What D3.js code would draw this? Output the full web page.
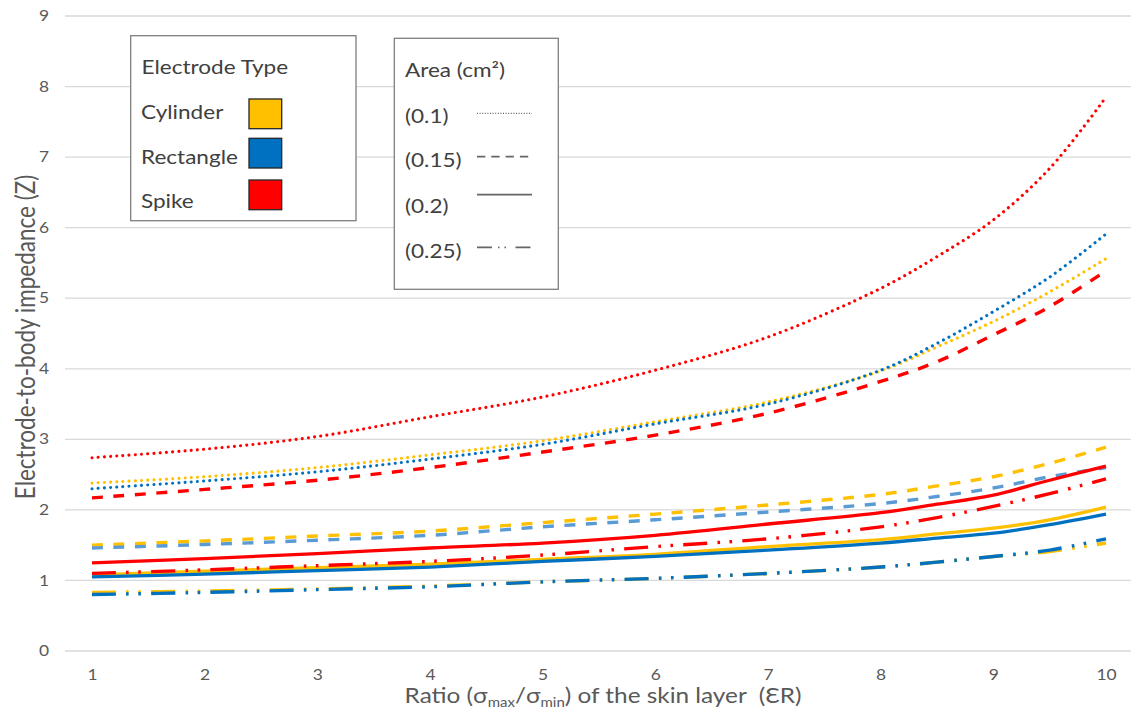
<!DOCTYPE html>
<html>
<head>
<meta charset="utf-8">
<script src="https://cdn.jsdelivr.net/npm/d3@7"></script>
<style>
  html, body { margin: 0; padding: 0; background: #fff; }
  svg { display: block; font-family: Lato, "Open Sans", sans-serif; }
</style>
</head>
<body>
<svg id="chart" width="1131" height="709"></svg>
<script>
// ---------------- data ----------------
const xValues = [1, 2, 3, 4, 5, 6, 7, 8, 8.5, 9, 9.5, 10];
const xTicks = [1, 2, 3, 4, 5, 6, 7, 8, 9, 10];
const yTicks = [0, 1, 2, 3, 4, 5, 6, 7, 8, 9];

const electrodeTypes = ["Cylinder", "Rectangle", "Spike"];
const areaLabels = ["(0.1)", "(0.15)", "(0.2)", "(0.25)"];

// Cylinder
const cylinder01  = [2.38, 2.47, 2.60, 2.78, 2.98, 3.25, 3.53, 3.97, 4.31, 4.67, 5.09, 5.56];
const cylinder015 = [1.50, 1.56, 1.63, 1.70, 1.82, 1.94, 2.07, 2.22, 2.34, 2.47, 2.66, 2.89];
const cylinder02  = [1.08, 1.13, 1.18, 1.23, 1.30, 1.37, 1.48, 1.58, 1.66, 1.74, 1.86, 2.04];
const cylinder025 = [0.83, 0.85, 0.88, 0.92, 0.98, 1.03, 1.10, 1.19, 1.26, 1.34, 1.41, 1.53];
// Rectangle
const rectangle01  = [2.30, 2.41, 2.54, 2.72, 2.93, 3.22, 3.50, 3.98, 4.36, 4.81, 5.30, 5.91];
const rectangle015 = [1.46, 1.51, 1.57, 1.64, 1.76, 1.86, 1.97, 2.09, 2.19, 2.31, 2.47, 2.60];
const rectangle02  = [1.05, 1.09, 1.14, 1.19, 1.27, 1.34, 1.43, 1.53, 1.60, 1.67, 1.79, 1.94];
const rectangle025 = [0.80, 0.83, 0.87, 0.91, 0.98, 1.03, 1.10, 1.19, 1.26, 1.34, 1.43, 1.59];
// Spike
const spike01  = [2.74, 2.86, 3.04, 3.32, 3.60, 3.98, 4.45, 5.14, 5.59, 6.11, 6.84, 7.85];
const spike015 = [2.17, 2.29, 2.42, 2.60, 2.82, 3.06, 3.37, 3.82, 4.10, 4.48, 4.88, 5.39];
const spike02  = [1.25, 1.31, 1.38, 1.46, 1.53, 1.64, 1.80, 1.96, 2.08, 2.21, 2.42, 2.62];
const spike025 = [1.10, 1.15, 1.21, 1.27, 1.36, 1.48, 1.59, 1.76, 1.89, 2.05, 2.23, 2.44];

// ---------------- styles ----------------
const typeColor = { Cylinder: "#FFC000", Rectangle: "#0070C0", Spike: "#FF0000" };
const styleByArea = {
  "0.1":  { dash: "0.01,6.2", cap: "round", width: 3.1 },
  "0.15": { dash: "11,10.5", cap: "butt", width: 3.4 },
  "0.2":  { dash: null, cap: "butt", width: 3.3 },
  "0.25": { dash: "24,10.3,2.6,9.5,2.6,10.2", cap: "butt", width: 3.4 }
};

const series = [
  { type: "Cylinder", area: "0.1", values: cylinder01 },
  { type: "Cylinder", area: "0.15", values: cylinder015 },
  { type: "Cylinder", area: "0.2", values: cylinder02 },
  { type: "Cylinder", area: "0.25", values: cylinder025 },
  { type: "Rectangle", area: "0.1", values: rectangle01 },
  { type: "Rectangle", area: "0.15", values: rectangle015, color: "#5B9BD5" },
  { type: "Rectangle", area: "0.2", values: rectangle02 },
  { type: "Rectangle", area: "0.25", values: rectangle025 },
  { type: "Spike", area: "0.1", values: spike01 },
  { type: "Spike", area: "0.15", values: spike015 },
  { type: "Spike", area: "0.2", values: spike02 },
  { type: "Spike", area: "0.25", values: spike025 }
];

// ---------------- layout ----------------
const svg = d3.select("#chart");
const plotLeft = 65, plotRight = 1131;
const SX = 1.2; // horizontal glyph stretch of the original picture
const textColor = "#595959";

const x = d3.scaleLinear().domain([1, 10]).range([92, 1106]);
const y = d3.scaleLinear().domain([0, 9]).range([651, 16]);

// gridlines
svg.append("g").selectAll("line").data(yTicks).join("line")
  .attr("x1", plotLeft).attr("x2", plotRight)
  .attr("y1", d => y(d)).attr("y2", d => y(d))
  .attr("stroke", "#D9D9D9").attr("stroke-width", 1.3);

// axes
const yAxis = svg.append("g").attr("transform", "translate(49,0)")
  .call(d3.axisLeft(y).tickValues(yTicks).tickSize(0).tickPadding(0).tickFormat(d3.format("d")));
yAxis.select(".domain").remove();
yAxis.selectAll("text").attr("fill", textColor).attr("font-size", 14.5)
  .attr("font-family", "Lato, sans-serif").attr("transform", `scale(${SX},1)`);

const xAxis = svg.append("g").attr("transform", "translate(0,670)")
  .call(d3.axisBottom(x).tickValues(xTicks).tickSize(0).tickPadding(0).tickFormat(d3.format("d")));
xAxis.select(".domain").remove();
xAxis.selectAll("text").attr("fill", textColor).attr("font-size", 14.5)
  .attr("font-family", "Lato, sans-serif").attr("transform", `scale(${SX},1)`);

// lines
const line = d3.line().x((d, i) => x(xValues[i])).y(d => y(d)).curve(d3.curveCatmullRom.alpha(0.5));
svg.append("g").selectAll("path").data(series).join("path")
  .attr("d", d => line(d.values))
  .attr("fill", "none")
  .attr("stroke", d => d.color || typeColor[d.type])
  .attr("stroke-width", d => styleByArea[d.area].width)
  .attr("stroke-linecap", d => styleByArea[d.area].cap)
  .attr("stroke-dasharray", d => styleByArea[d.area].dash);

// axis titles
const xt = svg.append("text")
  .attr("transform", `translate(603,703) scale(${SX},1)`)
  .attr("text-anchor", "middle").attr("fill", textColor).attr("font-size", 20.3)
  .style("white-space", "pre");
xt.append("tspan").text("Ratio (σ");
xt.append("tspan").attr("font-size", 12.5).attr("dy", 4).text("max");
xt.append("tspan").attr("dy", -4).text("/σ");
xt.append("tspan").attr("font-size", 12.5).attr("dy", 4).text("min");
xt.append("tspan").attr("dy", -4).text(") of the skin layer \u00A0(ƐR)");

svg.append("text")
  .attr("transform", `translate(35,337) rotate(-90) scale(1,${SX})`)
  .attr("text-anchor", "middle").attr("fill", textColor).attr("font-size", 22.5)
  .text("Electrode-to-body impedance (Z)");

// ---------------- legends ----------------
const legColor = "#404040";
const legFont = 18.8;
const lg = svg.append("g");
lg.append("rect").attr("x", 130.7).attr("y", 35.7).attr("width", 225.3).attr("height", 185)
  .attr("fill", "#fff").attr("stroke", "#7F7F7F").attr("stroke-width", 1.3);
lg.append("text").attr("transform", `translate(141.5,74) scale(${SX},1)`)
  .attr("fill", legColor).attr("font-size", legFont).text("Electrode Type");
const typeRows = [119, 164, 208];
const swatchY = [99, 138.3, 180];
electrodeTypes.forEach((t, i) => {
  lg.append("text").attr("transform", `translate(141,${typeRows[i]}) scale(${SX},1)`)
    .attr("fill", legColor).attr("font-size", legFont).text(t);
  lg.append("rect").attr("x", 249).attr("y", swatchY[i]).attr("width", 32.7).attr("height", 29.7)
    .attr("fill", typeColor[t]).attr("stroke", "#262626").attr("stroke-width", 1.3);
});

lg.append("rect").attr("x", 394.3).attr("y", 38.3).attr("width", 164).attr("height", 251)
  .attr("fill", "#fff").attr("stroke", "#7F7F7F").attr("stroke-width", 1.3);
lg.append("text").attr("transform", `translate(405,77) scale(${SX},1)`)
  .attr("fill", legColor).attr("font-size", legFont).text("Area (cm²)");
const areaRows = [123, 167, 213, 258];
const areaLineY = [113.3, 156.7, 194.7, 247.3];
const legendDash = ["1,1.6", "8.3,6", null, "15,6,1.5,5,1.5,9.5"];
areaLabels.forEach((a, i) => {
  lg.append("text").attr("transform", `translate(405,${areaRows[i]}) scale(${SX},1)`)
    .attr("fill", legColor).attr("font-size", legFont).text(a);
  lg.append("line").attr("x1", 477).attr("x2", 532)
    .attr("y1", areaLineY[i]).attr("y2", areaLineY[i])
    .attr("stroke", "#666").attr("stroke-width", i === 0 ? 1.3 : 1.8)
    .attr("stroke-dasharray", legendDash[i]);
});
</script>
</body>
</html>
